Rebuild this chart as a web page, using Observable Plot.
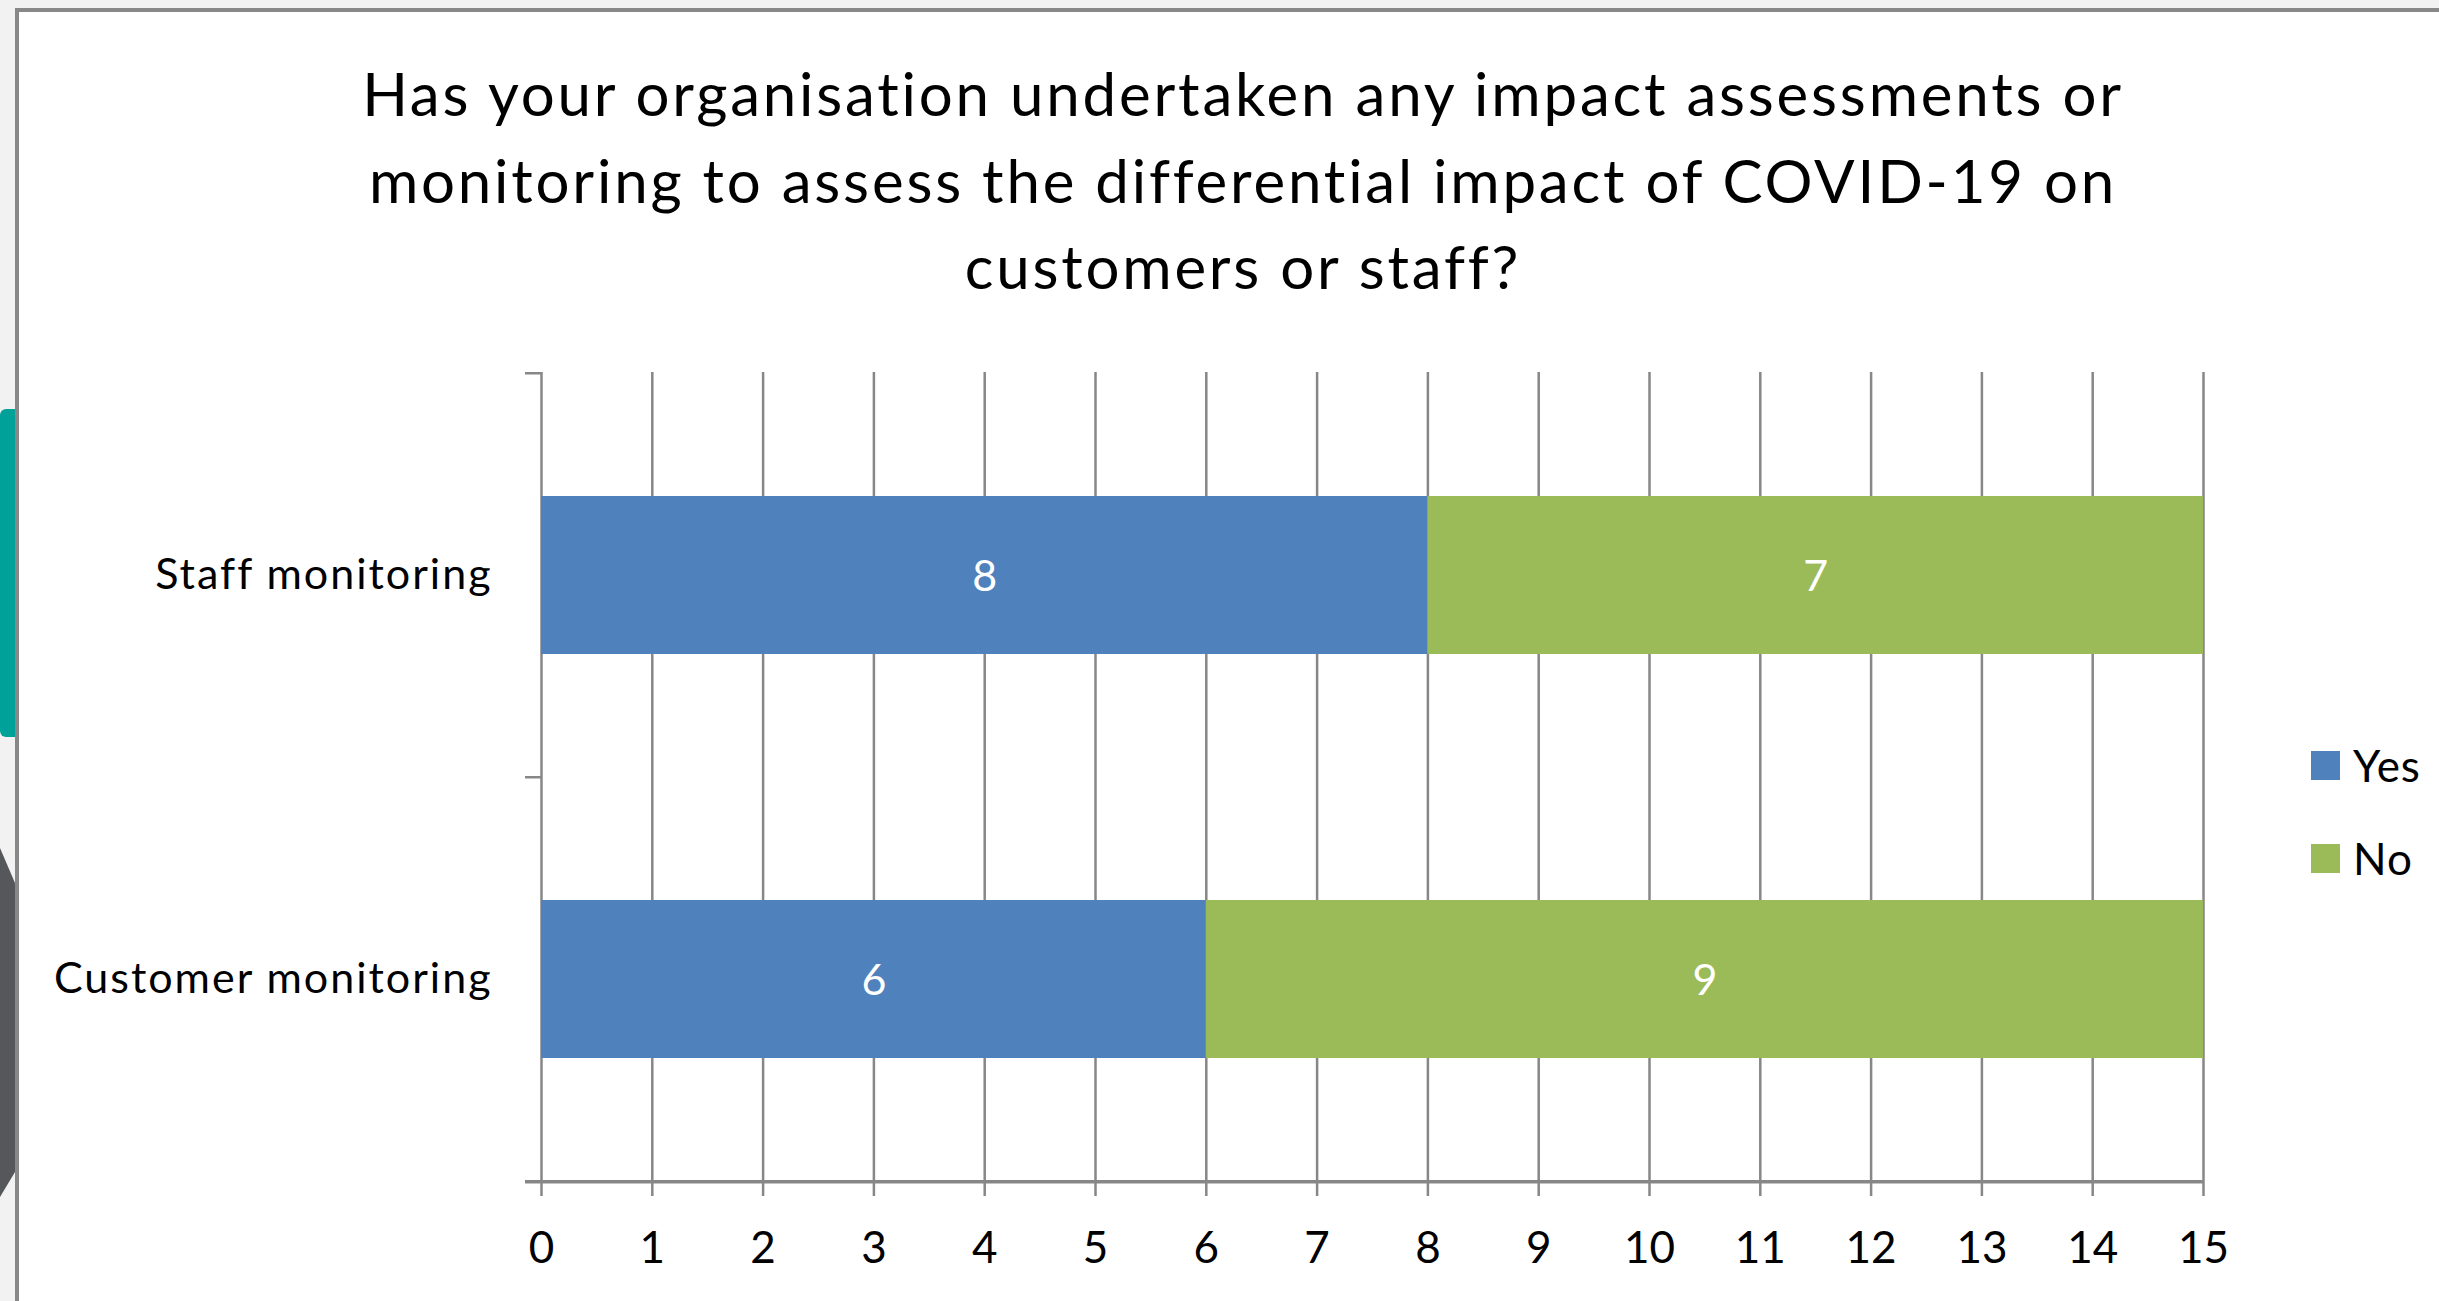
<!DOCTYPE html>
<html>
<head>
<meta charset="utf-8">
<script src="https://cdn.jsdelivr.net/npm/d3@7"></script>
<script src="https://cdn.jsdelivr.net/npm/@observablehq/plot@0.6"></script>
<style>
  html, body { margin: 0; padding: 0; }
  body { width: 2439px; height: 1301px; background: #f2f2f2; position: relative; overflow: hidden; font-family: Lato, "Open Sans", sans-serif; }
  #sheet { position: absolute; left: 15px; top: 8px; width: 2500px; height: 1400px; background: #fff; border-left: 4px solid #888; border-top: 4px solid #888; box-sizing: border-box; }
  #teal { position: absolute; left: 0; top: 409px; width: 15px; height: 328px; background: #00a199; border-radius: 6px 0 0 6px; }
  #hex { position: absolute; left: 0; top: 848px; width: 15px; height: 349px; background: #55575b; clip-path: polygon(0 0, 100% 35px, 100% 324px, 0 100%); }
  #title { position: absolute; left: 0; width: 2486px; top: 50px; text-align: center; font-size: 60px; line-height: 86.5px; color: #000; letter-spacing: 2.8px; }
  #chart { position: absolute; left: 0; top: 0; }
  #chart svg g[aria-label="y-axis tick label"] text { letter-spacing: 2px; }
  .leg { position: absolute; left: 2311px; font-size: 44px; line-height: 44px; color: #000; display: flex; align-items: center; letter-spacing: 1px; }
  .leg span.sw { display: inline-block; width: 29px; height: 29px; margin-right: 13px; }
</style>
</head>
<body>
<div id="sheet"></div>
<div id="teal"></div>
<div id="hex"></div>
<div id="title"></div>
<div id="chart"></div>
<div id="legend"></div>
<script>
const titleLines = [
  "Has your organisation undertaken any impact assessments or",
  "monitoring to assess the differential impact of COVID-19 on",
  "customers or staff?"
];
const categories = ["Staff monitoring", "Customer monitoring"];
const seriesNames = ["Yes", "No"];
const yesValues = [8, 6];
const noValues = [7, 9];
const seriesColors = ["#4f81bd", "#9bbb59"];
const xTicks = [0, 1, 2, 3, 4, 5, 6, 7, 8, 9, 10, 11, 12, 13, 14, 15];

document.getElementById("title").innerHTML = titleLines.join("<br>");

const data = [];
categories.forEach((c, i) => {
  data.push({category: c, answer: seriesNames[0], value: yesValues[i]});
  data.push({category: c, answer: seriesNames[1], value: noValues[i]});
});

const W = 2439, H = 1301;
const mL = 541, mR = W - 2203, mT = 372, mB = H - 1181;
const step = (H - mT - mB) / categories.length;
const gray = "#878787";

const chart = Plot.plot({
  width: W,
  height: H,
  marginLeft: mL,
  marginRight: mR,
  marginTop: mT,
  marginBottom: mB,
  style: {fontFamily: "Lato, 'Open Sans', sans-serif", fontSize: "43px", background: "transparent", color: "#000", overflow: "visible"},
  x: {domain: [0, 15]},
  y: {domain: categories, paddingInner: 0.61, paddingOuter: 0.305},
  color: {domain: seriesNames, range: seriesColors},
  marks: [
    Plot.gridX(xTicks, {stroke: gray, strokeOpacity: 1, strokeWidth: 2.5}),
    Plot.barX(data, Plot.stackX({x: "value", y: "category", fill: "answer", inset: 0})),
    Plot.text(data, Plot.stackX({x: "value", y: "category", z: "answer", text: d => String(d.value), fill: "#fff", fontSize: 43, dy: 2})),
    Plot.ruleY([categories[categories.length - 1]], {y: d => d, dy: step / 2, x1: 0, x2: 15, stroke: gray, strokeWidth: 3.5}),
    Plot.axisX(xTicks, {tickSize: 15, tickPadding: 35, stroke: gray, strokeWidth: 2.5, fill: "#000", fontSize: 44, label: null}),
    Plot.axisY({tickSize: 0, tickPadding: 49, fill: "#000", fontSize: 43, label: null}),
    Plot.axisY(categories, {tickSize: 16, dy: -step / 2, text: null, stroke: gray, strokeWidth: 2.5, label: null}),
    Plot.axisY([categories[categories.length - 1]], {tickSize: 16, dy: step / 2, text: null, stroke: gray, strokeWidth: 3.5, label: null})
  ]
});
document.getElementById("chart").appendChild(chart);

const legend = document.getElementById("legend");
const legTops = [743, 836];
seriesNames.forEach((name, i) => {
  const row = document.createElement("div");
  row.className = "leg";
  row.style.top = legTops[i] + "px";
  row.innerHTML = `<span class="sw" style="background:${seriesColors[i]}"></span><span>${name}</span>`;
  legend.appendChild(row);
});
</script>
</body>
</html>
